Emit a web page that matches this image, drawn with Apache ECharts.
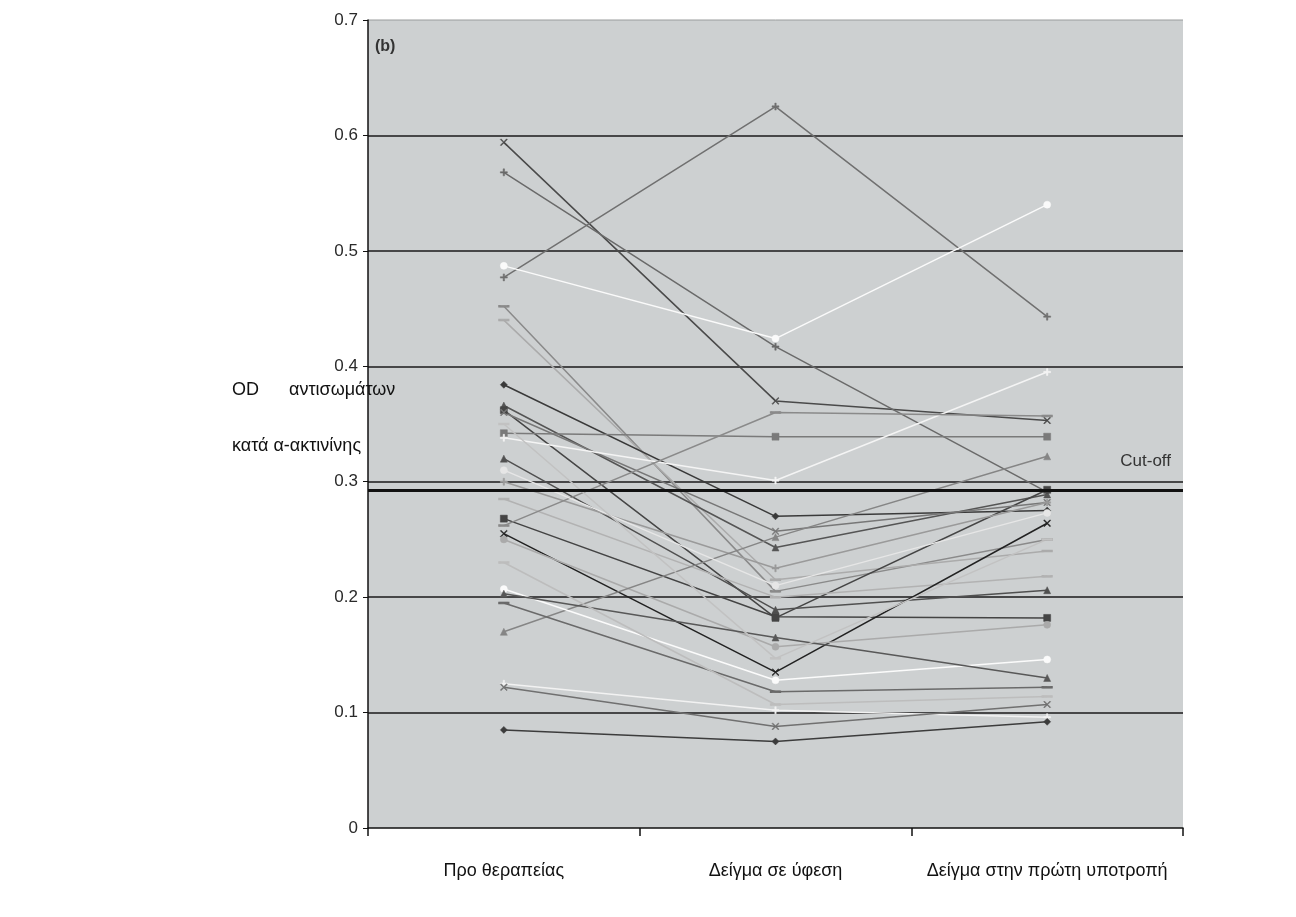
<!DOCTYPE html>
<html>
<head>
<meta charset="utf-8">
<title>OD αντισωμάτων κατά α-ακτινίνης</title>
<script src="https://cdn.jsdelivr.net/npm/echarts@6/dist/echarts.min.js"></script>
<style>
  html, body { margin: 0; padding: 0; background: #fff; }
  #chart { width: 1296px; height: 917px; }
</style>
</head>
<body>
<div id="chart"></div>
<script>
// categories on the x axis
const categories = ['Προ θεραπείας', 'Δείγμα σε ύφεση', 'Δείγμα στην πρώτη υποτροπή'];
const yTicks = [0, 0.1, 0.2, 0.3, 0.4, 0.5, 0.6, 0.7];
const cutOff = 0.293;

// one array per patient: [before, remission, relapse]
const p01 = [0.594, 0.370, 0.353];
const p02 = [0.568, 0.417, 0.291];
const p03 = [0.477, 0.625, 0.443];
const p04 = [0.487, 0.424, 0.540];
const p05 = [0.452, 0.205, 0.250];
const p06 = [0.440, 0.215, 0.240];
const p07 = [0.384, 0.270, 0.275];
const p08 = [0.366, 0.243, 0.289];
const p09 = [0.362, 0.182, 0.293];
const p10 = [0.360, 0.257, 0.282];
const p11 = [0.342, 0.339, 0.339];
const p12 = [0.338, 0.301, 0.395];
const p13 = [0.320, 0.189, 0.206];
const p14 = [0.300, 0.225, 0.282];
const p15 = [0.285, 0.200, 0.218];
const p16 = [0.268, 0.183, 0.182];
const p17 = [0.262, 0.360, 0.357];
const p18 = [0.255, 0.135, 0.264];
const p19 = [0.250, 0.157, 0.176];
const p20 = [0.170, 0.252, 0.322];
const p21 = [0.207, 0.128, 0.146];
const p22 = [0.203, 0.165, 0.130];
const p23 = [0.195, 0.118, 0.122];
const p24 = [0.230, 0.107, 0.114];
const p25 = [0.125, 0.102, 0.096];
const p26 = [0.122, 0.088, 0.107];
const p27 = [0.085, 0.075, 0.092];
const p28 = [0.310, 0.210, 0.273];
const p29 = [0.350, 0.147, 0.250];

const patients = [p01, p02, p03, p04, p05, p06, p07, p08, p09, p10, p11, p12, p13, p14, p15,
  p16, p17, p18, p19, p20, p21, p22, p23, p24, p25, p26, p27, p28, p29];

// marker shapes
const X = 'path://M1,0L5,4L9,0L10,1L6,5L10,9L9,10L5,6L1,10L0,9L4,5L0,1Z';
const PLUS = 'path://M4,0h2v4h4v2h-4v4h-2v-4h-4v-2h4z';
const DASH = 'dash';

// tone and marker for each line, same order as patients
const looks = [
  ['#4a4a4a', X], ['#6a6a6a', PLUS], ['#707070', PLUS], ['#fafafa', 'circle'],
  ['#8a8a8a', DASH], ['#ababab', DASH], ['#3a3a3a', 'diamond'], ['#555555', 'triangle'],
  ['#454545', 'rect'], ['#777777', X], ['#7a7a7a', 'rect'], ['#f4f4f4', PLUS],
  ['#505050', 'triangle'], ['#9a9a9a', PLUS], ['#b2b2b2', DASH], ['#444444', 'rect'],
  ['#8a8a8a', DASH], ['#222222', X], ['#aaaaaa', 'circle'], ['#858585', 'triangle'],
  ['#fbfbfb', 'circle'], ['#585858', 'triangle'], ['#6a6a6a', DASH], ['#bdbdbd', DASH],
  ['#f2f2f2', PLUS], ['#707070', X], ['#3c3c3c', 'diamond'], ['#e6e6e6', 'circle'],
  ['#c2c2c2', DASH]
];

const font = 'Liberation Sans, Arial, sans-serif';
const myChart = echarts.init(document.getElementById('chart'));

const series = patients.map((vals, i) => {
  const c = looks[i][0];
  const isDash = looks[i][1] === DASH;
  return {
    name: 'p' + (i + 1),
    type: 'line',
    data: vals,
    symbol: isDash ? 'rect' : looks[i][1],
    symbolSize: isDash ? [9, 2] : 7,
    showAllSymbol: true,
    z: 3,
    lineStyle: { color: c, width: 1.5 },
    itemStyle: { color: c, borderColor: c, borderWidth: 0.5 },
    emphasis: { disabled: true }
  };
});

// cut-off line
series.push({
  name: 'cutoff',
  type: 'line',
  data: [],
  silent: true,
  markLine: {
    symbol: 'none',
    silent: true,
    precision: 3,
    lineStyle: { color: '#111', width: 3, type: 'solid' },
    label: {
      show: true,
      position: 'insideEndTop',
      formatter: 'Cut-off',
      color: '#333',
      fontSize: 17,
      fontFamily: font,
      distance: [12, 20]
    },
    data: [{ yAxis: cutOff }]
  }
});

const option = {
  animation: false,
  backgroundColor: '#ffffff',
  grid: { left: 368, right: 113, top: 20, bottom: 89, show: true, backgroundColor: '#cdd0d1', borderWidth: 0 },
  xAxis: {
    type: 'category',
    data: categories,
    boundaryGap: true,
    axisLine: { lineStyle: { color: '#111', width: 1.5 } },
    axisTick: { show: true, interval: 0, length: 8, lineStyle: { color: '#111', width: 1.5 } },
    axisLabel: {
      interval: 0,
      hideOverlap: false,
      margin: 34,
      color: '#111',
      fontSize: 18,
      fontFamily: font
    },
    splitLine: { show: false }
  },
  yAxis: {
    type: 'value',
    min: yTicks[0],
    max: yTicks[yTicks.length - 1],
    interval: 0.1,
    axisLine: { show: true, lineStyle: { color: '#111', width: 1.5 } },
    axisTick: { show: true, length: 5, lineStyle: { color: '#111' } },
    axisLabel: {
      margin: 10,
      color: '#2a2a2a',
      fontSize: 17,
      fontFamily: font,
      formatter: v => (v === 0 ? '0' : v.toFixed(1))
    },
    splitLine: {
      show: true,
      lineStyle: { color: '#1a1a1a', width: 1.5 },
      showMaxLine: false,
      showMinLine: false
    }
  },
  graphic: [
    {
      type: 'text', left: 232, top: 381,
      style: { text: 'OD', fill: '#111', fontSize: 18, fontFamily: font }
    },
    {
      type: 'text', left: 289, top: 381,
      style: { text: 'αντισωμάτων', fill: '#111', fontSize: 18, fontFamily: font }
    },
    {
      type: 'text', left: 232, top: 437,
      style: { text: 'κατά α-ακτινίνης', fill: '#111', fontSize: 18, fontFamily: font }
    },
    {
      type: 'text', left: 375, top: 39,
      style: { text: '(b)', fill: '#333', fontSize: 16, fontWeight: 'bold', fontFamily: font }
    },
    {
      type: 'line', shape: { x1: 368, y1: 20, x2: 1183, y2: 20 },
      style: { stroke: '#9a9c9d', lineWidth: 1 }
    }
  ],
  series: series
};

myChart.setOption(option);
</script>
</body>
</html>
